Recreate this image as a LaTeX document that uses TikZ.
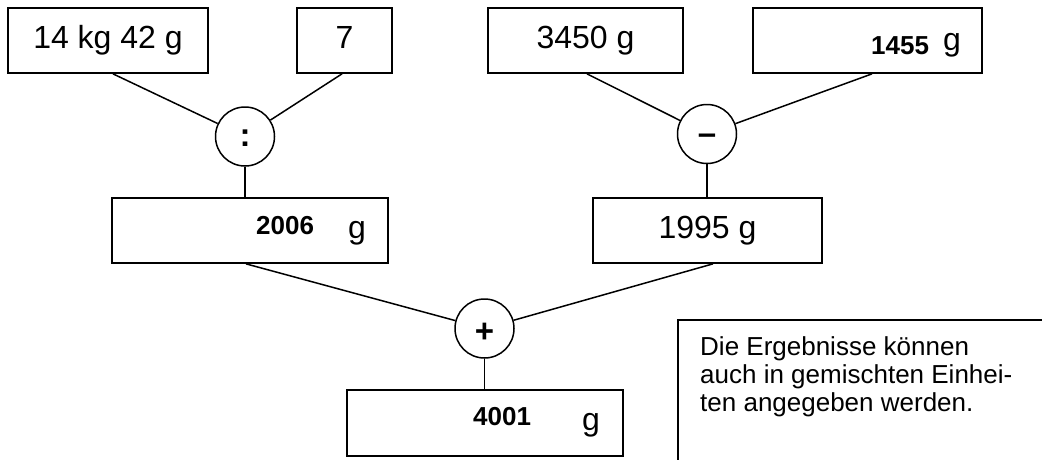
\documentclass[tikz,border=0pt]{standalone}
\usepackage{fontspec}
\setmainfont{Liberation Sans}
\tikzset{
 box/.style={draw, line width=1.7pt, inner sep=0pt, font=\fontsize{32}{38}\selectfont, text height=23pt, text depth=7pt},
 op/.style={draw, circle, line width=1.5pt, minimum size=59pt, inner sep=0pt, text height=0pt, text depth=0pt, font=\bfseries\fontsize{33}{38}\selectfont},
 link/.style={line width=1.5pt},
 num/.style={anchor=base west, inner sep=0pt, font=\bfseries\fontsize{26}{30}\selectfont},
 unit/.style={anchor=base west, inner sep=0pt, font=\fontsize{32}{38}\selectfont},
}
\begin{document}
\begin{tikzpicture}[x=1pt,y=-1pt]
\useasboundingbox (0,0) rectangle (1042,459);
% top row
\node[box, minimum width=200pt, minimum height=65pt] (b1) at (108,40.5) {14 kg 42 g};
\node[box, minimum width=95pt, minimum height=65pt] (b2) at (344.5,40.5) {7};
\node[box, minimum width=195pt, minimum height=65pt] (b3) at (585.5,40.5) {3450 g};
\node[box, minimum width=229pt, minimum height=65pt] (b4) at (867.5,40.5) {};
\node[num] (n4) at (871,54) {1455};
\node[unit] (u4) at (943,50) {g};
% operators
\node[op] (div) at (245,136.5) {\raisebox{-10pt}{:}};
\node[op] (sub) at (707,134) {\raisebox{-10.5pt}{–}};
\node[op] (add) at (484.5,328.5) {\raisebox{-14pt}{+}};
% middle row
\node[box, minimum width=276pt, minimum height=65pt] (r1) at (250,230.5) {};
\node[num] (n1) at (256,234) {2006};
\node[unit] (u1) at (348,238) {g};
\node[box, minimum width=229pt, minimum height=65pt] (r2) at (707.5,230.5) {1995 g};
% result
\node[box, minimum width=276pt, minimum height=66pt] (res) at (485,423) {};
\node[num] (n5) at (473,425) {4001};
\node[unit] (u5) at (582,430) {g};
% connectors
\draw[link] ([xshift=5pt]b1.south) -- (div);
\draw[link] ([xshift=-2.5pt]b2.south) -- (div);
\draw[link] ([xshift=1.5pt]b3.south) -- (sub);
\draw[link] ([xshift=4.5pt]b4.south) -- (sub);
\draw[link] (div.south) -- (div.south |- r1.north);
\draw[link] (sub.south) -- (sub.south |- r2.north);
\draw[link] ([xshift=-4pt]r1.south) -- (add);
\draw[link] ([xshift=5.5pt]r2.south) -- (add);
\draw[link] (add.south) -- (add.south |- res.north);
% note
\coordinate (nc) at (678,320);
\draw[line width=1.8pt] (nc |- 0,460) -- (nc) -- (1043,320);
\node[anchor=north west, inner sep=0pt, align=left, font=\fontsize{26}{28}\selectfont] (note) at (700,336) {Die Ergebnisse können\\auch in gemischten Einhei-\\ten angegeben werden.};
\end{tikzpicture}
\end{document}
